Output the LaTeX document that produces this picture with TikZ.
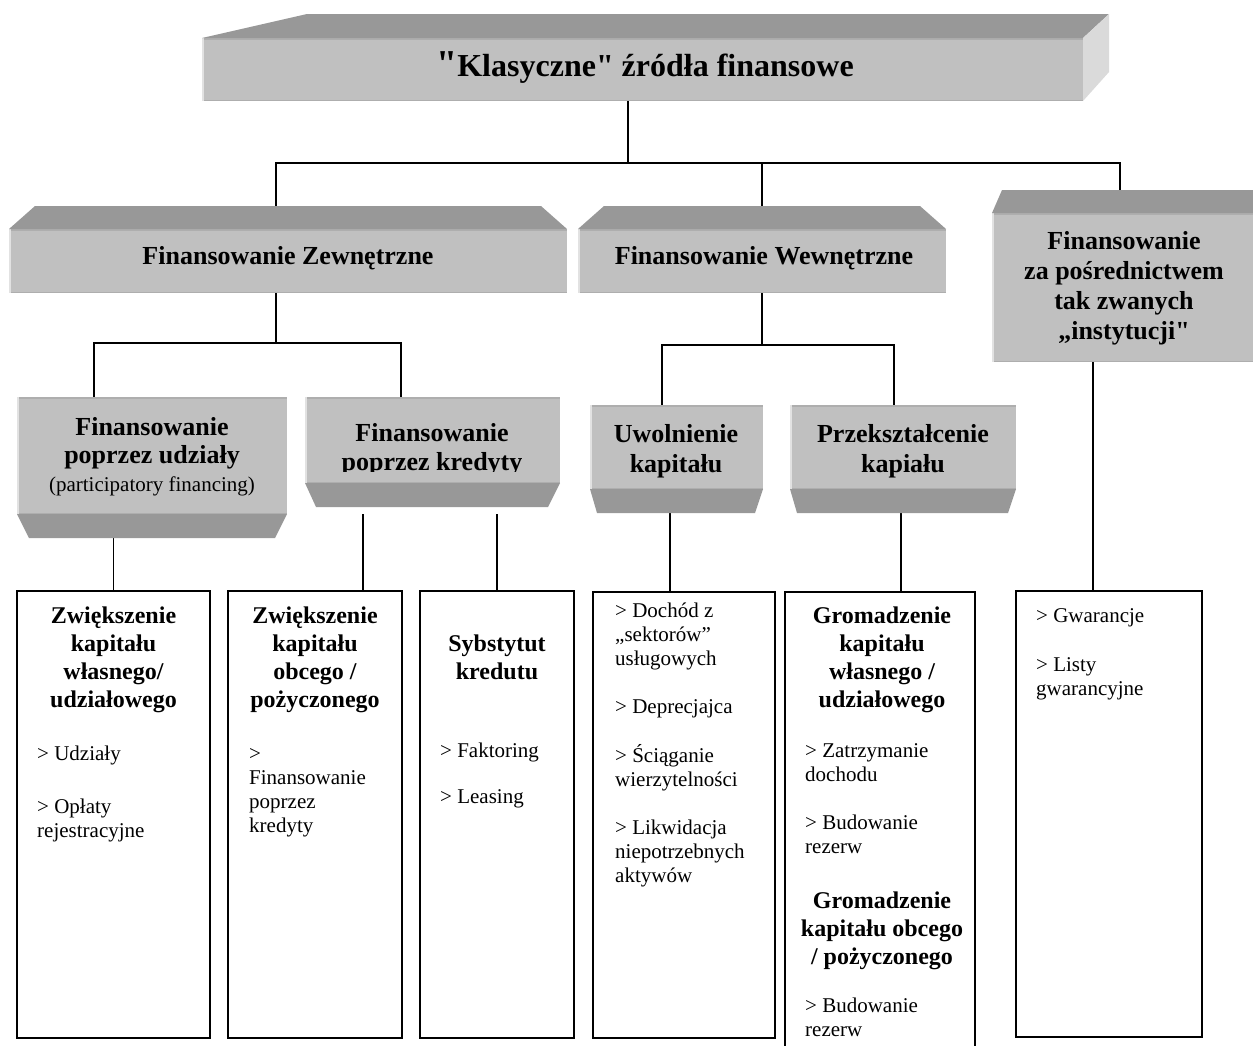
\documentclass[tikz,border=0pt]{standalone}
\usepackage{fontspec}
\setmainfont{Liberation Serif}
\usetikzlibrary{calc}
\pgfdeclarelayer{bg}
\pgfsetlayers{bg,main}

\definecolor{faceFront}{RGB}{192,192,192}
\definecolor{faceDark}{RGB}{152,152,152}
\definecolor{faceLight}{RGB}{218,218,218}
\definecolor{edgeDark}{RGB}{174,174,174}
\definecolor{edgeLight}{RGB}{226,226,226}

% straight double quote, set as a glyph so no ligature mapping touches it
\newcommand\dq{\XeTeXglyph\XeTeXcharglyph"22\relax}
% stacked lines; the node baseline is the first line's baseline
\newcommand\ctab[1]{\begin{tabular}[t]{@{}c@{}}#1\end{tabular}}
\newcommand\ltab[1]{\begin{tabular}[t]{@{}l@{}}#1\end{tabular}}

% bevelled faces of the grey blocks
\newcommand\topface[3]{\fill[faceDark] (#1.north west) -- ([xshift=#2pt,yshift=23pt]#1.north west)
  -- ([xshift=-#3pt,yshift=23pt]#1.north east) -- (#1.north east) -- cycle;}
\newcommand\botface[3]{\fill[faceDark] (#1.south west) -- ([xshift=#2pt,yshift=-24pt]#1.south west)
  -- ([xshift=-#3pt,yshift=-24pt]#1.south east) -- (#1.south east) -- cycle;}
% soft edge shading on a front face
\newcommand\frontedges[1]{%
  \draw[edgeDark, line width=1.5pt] ([yshift=-0.75pt]#1.north west) -- ([yshift=-0.75pt]#1.north east);
  \draw[edgeDark, line width=1.5pt] ([yshift=0.75pt]#1.south west) -- ([yshift=0.75pt]#1.south east);
  \draw[edgeLight, line width=1.5pt] ([xshift=0.75pt]#1.north west) -- ([xshift=0.75pt]#1.south west);}

\tikzset{
  x=1pt, y=-1pt,
  front/.style={rectangle, fill=faceFront, inner sep=0pt, outer sep=0pt},
  listbox/.style={rectangle, draw=black, line width=2pt, fill=white, inner sep=0pt, outer sep=0pt},
  link/.style={draw=black, line width=1.6pt},
  lbl/.style={font=\bfseries\fontsize{26}{30}\selectfont, inner sep=0pt, anchor=base},
  head/.style={font=\bfseries\fontsize{24}{28}\selectfont, inner sep=0pt, anchor=base},
  item/.style={font=\fontsize{21}{24}\selectfont, inner sep=0pt, anchor=base west},
}

\begin{document}
\begin{tikzpicture}
\useasboundingbox (0,0) rectangle (1253,1045);
\clip (0,0) rectangle (1253,1045);

% ---------- top block ----------
\node[front, minimum width=881pt, minimum height=63pt] (top) at (642.5,69.5) {};
\frontedges{top}
\fill[faceDark] (top.north west) -- ++(105,-24) -- ([xshift=26pt,yshift=24pt]top.north east) -- (top.north east) -- cycle;
\fill[faceLight] (top.north east) -- ++(26,-24) -- ++(0,58) -- (top.south east) -- cycle;
\node[anchor=base, font=\bfseries\fontsize{32}{38}\selectfont, inner sep=0pt] (ttl) at (645,76)
  {{\fontsize{38}{38}\selectfont\dq}Klasyczne\dq{} źródła finansowe};

% ---------- second level ----------
\node[front, minimum width=558pt, minimum height=64pt] (zew) at (288,261) {};
\frontedges{zew}
\topface{zew}{26}{26}
\node[lbl] (zewl) at (288,264) {Finansowanie Zewnętrzne};

\node[front, minimum width=368pt, minimum height=64pt] (wew) at (762,261) {};
\frontedges{wew}
\topface{wew}{26}{26}
\node[lbl] (wewl) at (764,264) {Finansowanie Wewnętrzne};

\node[front, minimum width=261pt, minimum height=149pt] (inst) at (1122.5,287.5) {};
\frontedges{inst}
\topface{inst}{10}{0}
\node[lbl] (instl) at (1124,249)
  {\ctab{Finansowanie\\za pośrednictwem\\tak zwanych\\„instytucji\dq}};

% ---------- third level ----------
\node[front, minimum width=270pt, minimum height=117pt] (udz) at (152,455.5) {};
\frontedges{udz}
\botface{udz}{12}{12}
\node[lbl, font=\bfseries\fontsize{26}{28}\selectfont] (udzl) at (152,435)
  {\ctab{Finansowanie\\poprzez udziały\\{\mdseries\fontsize{21}{24}\selectfont (participatory financing)}}};

\node[front, minimum width=255pt, minimum height=86pt] (kred) at (432.5,440) {};
\frontedges{kred}
\botface{kred}{11}{12}
\begin{scope}
  \clip (kred.north west) rectangle ([yshift=12pt]kred.south east);
  \node[lbl, font=\bfseries\fontsize{26}{29}\selectfont] (kredl) at (432,441)
    {\ctab{Finansowanie\\poprzez kredyty}};
\end{scope}

\node[front, minimum width=173pt, minimum height=84pt] (uwo) at (676.5,447) {};
\frontedges{uwo}
\botface{uwo}{7}{8}
\node[lbl] (uwol) at (676,442) {\ctab{Uwolnienie\\kapitału}};

\node[front, minimum width=226pt, minimum height=84pt] (prz) at (903,447) {};
\frontedges{prz}
\botface{prz}{7}{8}
\node[lbl] (przl) at (903,442) {\ctab{Przekształcenie\\kapiału}};

% ---------- lists ----------
\node[listbox, minimum width=193pt, minimum height=447pt] (bx1) at (113.5,814.5) {};
\node[head] (bx1h) at (113.5,623) {\ctab{Zwiększenie\\kapitału\\własnego/\\udziałowego}};
\node[item] (bx1i) at (37,760) {\ltab{> Udziały\\[29pt]> Opłaty\\rejestracyjne}};

\node[listbox, minimum width=174pt, minimum height=447pt] (bx2) at (315,814.5) {};
\node[head] (bx2h) at (315,623) {\ctab{Zwiększenie\\kapitału\\obcego /\\pożyczonego}};
\node[item] (bx2i) at (249,760) {\ltab{>\\Finansowanie\\poprzez\\kredyty}};

\node[listbox, minimum width=154pt, minimum height=447pt] (bx3) at (497,814.5) {};
\node[head] (bx3h) at (497,651) {\ctab{Sybstytut\\kredutu}};
\node[item] (bx3i) at (440,757) {\ltab{> Faktoring\\[22pt]> Leasing}};

\node[listbox, minimum width=182pt, minimum height=446pt] (bx4) at (684,815) {};
\node[item] (bx4i) at (615,617)
  {\ltab{> Dochód z\\„sektorów”\\usługowych\\[24pt]> Deprecjajca\\[24pt]> Ściąganie\\wierzytelności\\[24pt]> Likwidacja\\niepotrzebnych\\aktywów}};

\node[listbox, minimum width=190pt, minimum height=468pt] (bx5) at (880,826) {};
\node[head] (bx5h) at (882,623) {\ctab{Gromadzenie\\kapitału\\własnego /\\udziałowego}};
\node[item] (bx5i) at (805,757) {\ltab{> Zatrzymanie\\dochodu\\[24pt]> Budowanie\\rezerw}};
\node[head] (bx5h2) at (882,908) {\ctab{Gromadzenie\\kapitału obcego\\/ pożyczonego}};
\node[item] (bx5i2) at (805,1012) {\ltab{> Budowanie\\rezerw}};

\node[listbox, minimum width=186pt, minimum height=446pt] (bx6) at (1109,814) {};
\node[item] (bx6i) at (1036,622) {\ltab{> Gwarancje\\[25pt]> Listy\\gwarancyjne}};

% ---------- connectors ----------
\begin{pgfonlayer}{bg}
  \draw[link] ([xshift=-14.5pt]top.south) -- ++(0,62) coordinate (bus1);
  \draw[link] ([xshift=-12pt]zew.north) |- (bus1) -| ([xshift=-2.5pt]inst.north);
  \draw[link] (wew.north) -- (wew.north |- bus1);
  \draw[link] ([xshift=-12pt]zew.south) -- ++(0,50) coordinate (bus2);
  \draw[link] ([xshift=-58pt]udz.north) |- (bus2) -| ([xshift=-31.5pt]kred.north);
  \draw[link] (wew.south) -- ++(0,52) coordinate (bus3);
  \draw[link] ([xshift=-14.5pt]uwo.north) |- (bus3) -| ([xshift=-9pt]prz.north);
  \draw[link] (bx1.north) -- (bx1.north |- udz.south);
  \draw[link] ([xshift=48pt]bx2.north) -- ++(0,-77);
  \draw[link] (bx3.north) -- ++(0,-77);
  \draw[link] ([xshift=-14pt]bx4.north) -- ([xshift=-14pt]bx4.north |- uwo.south);
  \draw[link] ([xshift=21pt]bx5.north) -- ([xshift=21pt]bx5.north |- prz.south);
  \draw[link] ([xshift=-16pt]bx6.north) -- ([xshift=-16pt]bx6.north |- inst.south);
\end{pgfonlayer}
\end{tikzpicture}
\end{document}
